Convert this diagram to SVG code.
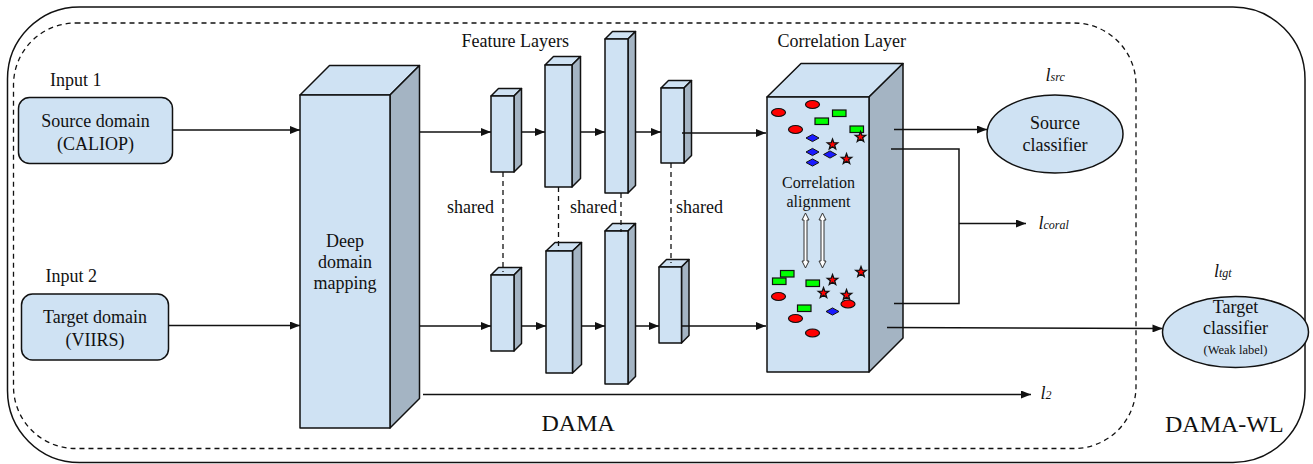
<svg xmlns="http://www.w3.org/2000/svg" width="1313" height="464" viewBox="0 0 1313 464" font-family="'Liberation Serif', serif">
<style>
svg text, svg tspan{font-family:'Liberation Serif','Times New Roman',serif}
text{fill:#111}
.t18{font-size:18px}
.t24{font-size:24px}
.front{fill:#cfe2f3;stroke:#111;stroke-width:1.5;stroke-linejoin:round}
.side{fill:#a4b4c3;stroke:#111;stroke-width:1.5;stroke-linejoin:round}
.conn{fill:none;stroke:#111;stroke-width:1.5}
.dash{fill:none;stroke:#111;stroke-width:1.3;stroke-dasharray:5 4}
.red{fill:#ff0000;stroke:#111;stroke-width:1.2}
.grn{fill:#00ff00;stroke:#111;stroke-width:1.2}
.blu{fill:#1a1aff;stroke:#111;stroke-width:1}
.star{fill:#ff0000;stroke:#111;stroke-width:1.3}
.hollow{fill:#fff;stroke:#333;stroke-width:1}
.it{font-style:italic}
</style>
<defs>
<marker id="ah" markerWidth="10" markerHeight="8" refX="10" refY="4" orient="auto" markerUnits="userSpaceOnUse">
<path d="M0,0 L10,4 L0,8 Z" fill="#111"/>
</marker>
<path id="st" d="M0,-5.5 L1.35,-1.86 L5.23,-1.7 L2.19,0.71 L3.23,4.45 L0,2.3 L-3.23,4.45 L-2.19,0.71 L-5.23,-1.7 L-1.35,-1.86 Z"/>
<path id="dm" d="M-6.5,0 L0,-3.6 L6.5,0 L0,3.6 Z"/>
</defs>
<rect width="1313" height="464" fill="#fff"/>

<g id="outer-frame">
<rect x="7.5" y="7" width="1297.5" height="455.5" rx="72" ry="72" fill="none" stroke="#111" stroke-width="1.5"/>
<text class="t24" x="1165" y="432" font-family="'Liberation Serif', serif">DAMA-WL</text>
</g>
<g id="dama-frame">
<rect x="13.5" y="23" width="1122.5" height="425.5" rx="62" ry="62" class="dash"/>
<text class="t24" x="541.5" y="431" font-family="'Liberation Serif', serif">DAMA</text>
</g>

<g id="input1" font-family="'Liberation Serif', serif">
<text class="t18" x="50" y="86" font-family="'Liberation Serif', serif">Input 1</text>
<rect x="18.5" y="97.5" width="154" height="66" rx="11" class="front"/>
<text class="t18" x="95.5" y="127" text-anchor="middle" font-family="'Liberation Serif', serif">Source domain</text>
<text class="t18" x="95.5" y="150" text-anchor="middle" font-family="'Liberation Serif', serif">(CALIOP)</text>
</g>

<g id="input2" font-family="'Liberation Serif', serif">
<text class="t18" x="45.5" y="282" font-family="'Liberation Serif', serif">Input 2</text>
<rect x="21.5" y="294" width="147" height="66" rx="11" class="front"/>
<text class="t18" x="95" y="323" text-anchor="middle" font-family="'Liberation Serif', serif">Target domain</text>
<text class="t18" x="95" y="346" text-anchor="middle" font-family="'Liberation Serif', serif">(VIIRS)</text>
</g>

<g id="deep-domain-mapping" font-family="'Liberation Serif', serif">
<polygon class="front" points="300,95 329.5,65.5 419.5,65.5 390,95"/>
<polygon class="side" points="390,95 419.5,65.5 419.5,398.5 390,428"/>
<rect class="front" x="300" y="95" width="90" height="333"/>
<text class="t18" x="345" y="247" text-anchor="middle" font-family="'Liberation Serif', serif">Deep</text>
<text class="t18" x="345" y="268" text-anchor="middle" font-family="'Liberation Serif', serif">domain</text>
<text class="t18" x="345" y="289" text-anchor="middle" font-family="'Liberation Serif', serif">mapping</text>
</g>

<g id="feature-layers" font-family="'Liberation Serif', serif">
<text class="t18" x="461.5" y="47" font-family="'Liberation Serif', serif">Feature Layers</text>
<g id="f1-top">
<polygon class="front" points="491,96 498.5,88.5 521.5,88.5 514,96"/>
<polygon class="side" points="514,96 521.5,88.5 521.5,164.5 514,172"/>
<rect class="front" x="491" y="96" width="23" height="76"/>
</g>
<g id="f2-top">
<polygon class="front" points="545,65 553.5,56.5 580.5,56.5 572,65"/>
<polygon class="side" points="572,65 580.5,56.5 580.5,178.5 572,187"/>
<rect class="front" x="545" y="65" width="27" height="122"/>
</g>
<g id="f3-top">
<polygon class="front" points="605,39 612.5,31.5 635.5,31.5 628,39"/>
<polygon class="side" points="628,39 635.5,31.5 635.5,185.5 628,193"/>
<rect class="front" x="605" y="39" width="23" height="154"/>
</g>
<g id="f4-top">
<polygon class="front" points="661,88 668.5,80.5 691.5,80.5 684,88"/>
<polygon class="side" points="684,88 691.5,80.5 691.5,155.5 684,163"/>
<rect class="front" x="661" y="88" width="23" height="75"/>
</g>
<g id="f1-bottom">
<polygon class="front" points="491,275 498.5,267.5 521.5,267.5 514,275"/>
<polygon class="side" points="514,275 521.5,267.5 521.5,343.5 514,351"/>
<rect class="front" x="491" y="275" width="23" height="76"/>
</g>
<g id="f2-bottom">
<polygon class="front" points="546,251 555,242.5 581.5,242.5 572.5,251"/>
<polygon class="side" points="572.5,251 581.5,242.5 581.5,364.5 572.5,373"/>
<rect class="front" x="546" y="251" width="26.5" height="122"/>
</g>
<g id="f3-bottom">
<polygon class="front" points="605,231 612.5,223.5 635.5,223.5 628,231"/>
<polygon class="side" points="628,231 635.5,223.5 635.5,376.5 628,384"/>
<rect class="front" x="605" y="231" width="23" height="153"/>
</g>
<g id="f4-bottom">
<polygon class="front" points="659,267 666.5,259.5 689,259.5 681.5,267"/>
<polygon class="side" points="681.5,267 689,259.5 689,335.5 681.5,343"/>
<rect class="front" x="659" y="267" width="22.5" height="76"/>
</g>
<text class="t18" x="447" y="213" font-family="'Liberation Serif', serif">shared</text>
<text class="t18" x="570" y="213" font-family="'Liberation Serif', serif">shared</text>
<text class="t18" x="676" y="213" font-family="'Liberation Serif', serif">shared</text>
</g>

<g id="correlation-layer" font-family="'Liberation Serif', serif">
<text class="t18" x="777.5" y="47" font-family="'Liberation Serif', serif">Correlation Layer</text>
<polygon class="front" points="767,97 801,63.5 903,63.5 869,97"/>
<polygon class="side" points="869,97 903,63.5 903,338 869,372"/>
<rect class="front" x="767" y="97" width="102" height="275"/>
<ellipse class="red" cx="778.5" cy="112.5" rx="7" ry="4"/>
<ellipse class="red" cx="812.5" cy="104.5" rx="7" ry="4"/>
<ellipse class="red" cx="795.5" cy="129.5" rx="7" ry="4"/>
<rect class="grn" x="832.5" y="110" width="13.5" height="6.5"/>
<rect class="grn" x="815" y="118" width="13.5" height="6.5"/>
<rect class="grn" x="850" y="126" width="13.5" height="6.5"/>
<use href="#st" class="star" x="860.5" y="137"/>
<use href="#st" class="star" x="832.5" y="144.5"/>
<use href="#st" class="star" x="846.5" y="159"/>
<use href="#dm" class="blu" x="812.5" y="138"/>
<use href="#dm" class="blu" x="812.5" y="152"/>
<use href="#dm" class="blu" x="830" y="154.5"/>
<use href="#dm" class="blu" x="812.5" y="162.5"/>
<text x="818.5" y="188" text-anchor="middle" font-family="'Liberation Serif', serif" font-size="16" fill="#333">Correlation</text>
<text x="818.5" y="207" text-anchor="middle" font-family="'Liberation Serif', serif" font-size="16" fill="#333">alignment</text>
<polygon class="hollow" points="805.5,213 809,220 807,220 807,261 809,261 805.5,268 802,261 804,261 804,220 802,220"/>
<polygon class="hollow" points="822.5,213 826,220 824,220 824,261 826,261 822.5,268 819,261 821,261 821,220 819,220"/>
<rect class="grn" x="780.5" y="270.5" width="13.5" height="6.5"/>
<rect class="grn" x="772.5" y="278" width="13.5" height="6.5"/>
<rect class="grn" x="806" y="280" width="13.5" height="6.5"/>
<rect class="grn" x="797.5" y="305" width="13.5" height="6.5"/>
<use href="#st" class="star" x="832.5" y="280"/>
<use href="#st" class="star" x="861" y="272"/>
<use href="#st" class="star" x="823.5" y="293"/>
<use href="#st" class="star" x="846.5" y="295"/>
<ellipse class="red" cx="778.5" cy="296.5" rx="7" ry="4"/>
<ellipse class="red" cx="848" cy="304" rx="7" ry="4"/>
<ellipse class="red" cx="795.5" cy="318.5" rx="7" ry="4"/>
<ellipse class="red" cx="812.5" cy="333" rx="7" ry="4"/>
<use href="#dm" class="blu" x="832.5" y="311.5"/>
</g>

<g id="source-classifier" font-family="'Liberation Serif', serif">
<text class="it" x="1045.5" y="81" font-size="18" font-family="'Liberation Serif', serif">l<tspan font-size="12">src</tspan></text>
<ellipse class="front" cx="1055" cy="134" rx="68" ry="39"/>
<text class="t18" x="1055" y="128.5" text-anchor="middle" font-family="'Liberation Serif', serif">Source</text>
<text class="t18" x="1055" y="150.5" text-anchor="middle" font-family="'Liberation Serif', serif">classifier</text>
</g>

<g id="target-classifier" font-family="'Liberation Serif', serif">
<text class="it" x="1214" y="277" font-size="18" font-family="'Liberation Serif', serif">l<tspan font-size="12">tgt</tspan></text>
<ellipse class="front" cx="1235.5" cy="332" rx="73" ry="35.5"/>
<text class="t18" x="1235.5" y="313" text-anchor="middle" font-family="'Liberation Serif', serif">Target</text>
<text class="t18" x="1235.5" y="334" text-anchor="middle" font-family="'Liberation Serif', serif">classifier</text>
<text x="1235.5" y="354" text-anchor="middle" font-size="12.5" font-family="'Liberation Serif', serif">(Weak label)</text>
</g>

<g id="loss-labels" font-family="'Liberation Serif', serif">
<text class="it" x="1038.5" y="229" font-size="18" font-family="'Liberation Serif', serif">l<tspan font-size="12">coral</tspan></text>
<text class="it" x="1040.5" y="399" font-size="18" font-family="'Liberation Serif', serif">l<tspan font-size="12">2</tspan></text>
</g>

<g id="connectors">
<line class="conn" x1="173" y1="130" x2="300" y2="130" marker-end="url(#ah)"/>
<line class="conn" x1="168" y1="325.5" x2="300" y2="325.5" marker-end="url(#ah)"/>
<line class="conn" x1="420" y1="132" x2="491" y2="132" marker-end="url(#ah)"/>
<line class="conn" x1="521.5" y1="132" x2="545" y2="132" marker-end="url(#ah)"/>
<line class="conn" x1="580.5" y1="132" x2="605" y2="132" marker-end="url(#ah)"/>
<line class="conn" x1="635.5" y1="132" x2="661" y2="132" marker-end="url(#ah)"/>
<line class="conn" x1="682" y1="133" x2="766" y2="133" marker-end="url(#ah)"/>
<line class="conn" x1="420" y1="326" x2="491" y2="326" marker-end="url(#ah)"/>
<line class="conn" x1="521.5" y1="326" x2="546" y2="326" marker-end="url(#ah)"/>
<line class="conn" x1="581.5" y1="326" x2="605" y2="326" marker-end="url(#ah)"/>
<line class="conn" x1="635.5" y1="326" x2="659" y2="326" marker-end="url(#ah)"/>
<line class="conn" x1="681" y1="326" x2="766" y2="326" marker-end="url(#ah)"/>
<line class="conn" x1="423" y1="394.5" x2="1031" y2="394.5" marker-end="url(#ah)"/>
<line class="conn" x1="894" y1="129.5" x2="987" y2="129.5" marker-end="url(#ah)"/>
<polyline class="conn" points="891,149 959,149 959,303.5 894,303.5"/>
<line class="conn" x1="959" y1="223.5" x2="1026" y2="223.5" marker-end="url(#ah)"/>
<line class="conn" x1="887" y1="327.5" x2="1162.5" y2="328.5" marker-end="url(#ah)"/>
<line class="dash" x1="503" y1="172" x2="503" y2="272"/>
<line class="dash" x1="558.5" y1="187" x2="558.5" y2="251"/>
<line class="dash" x1="621" y1="193" x2="621" y2="232"/>
<line class="dash" x1="671" y1="163" x2="671" y2="263"/>
</g>
</svg>
